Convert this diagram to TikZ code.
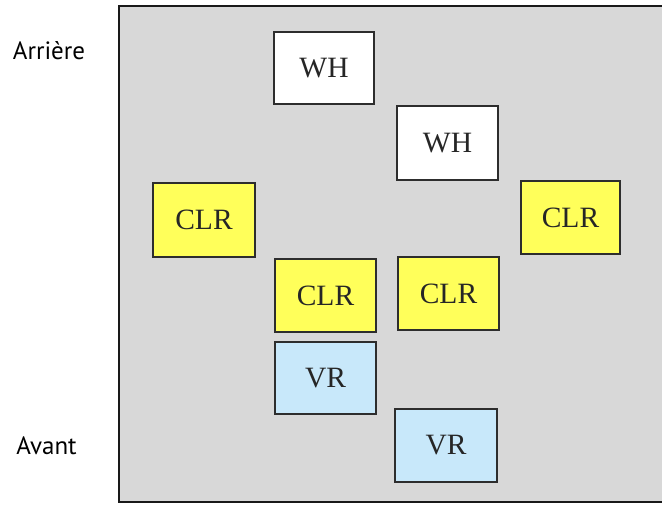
\documentclass[tikz,border=0pt]{standalone}
\usepackage{fontspec}
\setmainfont{Liberation Serif}
\newfontfamily\labelfont{PT Sans}
\definecolor{panelgray}{RGB}{216,216,216}
\definecolor{boxyellow}{RGB}{255,255,90}
\definecolor{boxblue}{RGB}{200,232,250}
\definecolor{boxedge}{RGB}{45,45,45}
\begin{document}
\begin{tikzpicture}[x=1pt,y=-1pt,
  unitbox/.style={draw=boxedge,line width=1.6pt,inner sep=0pt,
    font=\fontsize{29.5}{31}\selectfont,text=black!85},
  whbox/.style={unitbox,fill=white},
  clrbox/.style={unitbox,fill=boxyellow},
  vrbox/.style={unitbox,fill=boxblue},
  sidelabel/.style={font=\labelfont\fontsize{25}{28}\selectfont,text=black,inner sep=0pt}]
\useasboundingbox (0,0) rectangle (662,504);
% panel
\fill[panelgray] (119,6) rectangle (663,502);
\draw[line width=2pt,black!90] (663,6) -- (119,6) -- (119,502) -- (663,502);
% boxes
\node[whbox,minimum width=100pt,minimum height=72pt] (wh1) at (324,68) {WH};
\node[whbox,minimum width=101pt,minimum height=74pt] (wh2) at (447.5,143) {WH};
\node[clrbox,minimum width=99pt,minimum height=73pt] (clr1) at (570.5,217.5) {CLR};
\node[clrbox,minimum width=102pt,minimum height=74pt] (clr2) at (204,220) {CLR};
\node[clrbox,minimum width=101pt,minimum height=73pt] (clr3) at (325.5,295.5) {CLR};
\node[clrbox,minimum width=101pt,minimum height=73pt] (clr4) at (448.5,293.5) {CLR};
\node[vrbox,minimum width=101pt,minimum height=72pt] (vr1) at (325.5,378) {VR};
\node[vrbox,minimum width=102pt,minimum height=73pt] (vr2) at (446,445.5) {VR};
% side labels
\node[sidelabel] (arr) at (49,51) {Arrière};
\node[sidelabel] (av) at (46.5,446) {Avant};
\end{tikzpicture}
\end{document}
